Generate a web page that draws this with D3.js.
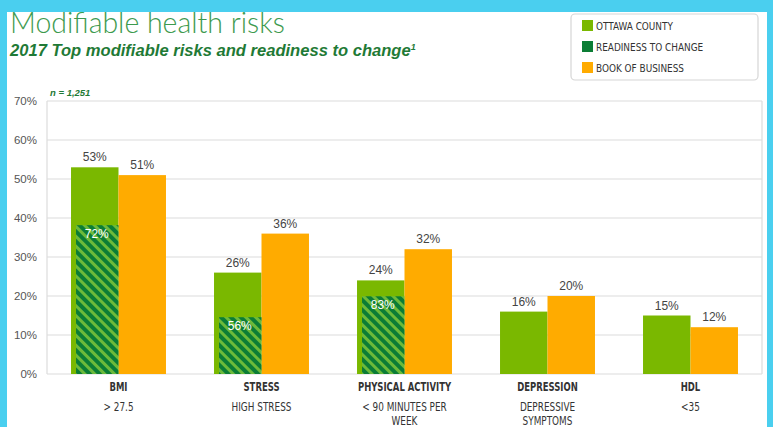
<!DOCTYPE html>
<html>
<head>
<meta charset="utf-8">
<script src="https://cdn.jsdelivr.net/npm/d3@7.9.0/dist/d3.min.js"></script>
<style>
  html, body { margin: 0; padding: 0; background: #fff; }
  svg { display: block; }
  .narrow { font-family: "Liberation Sans Narrow", "DejaVu Sans Condensed", "Liberation Sans", sans-serif; }
</style>
</head>
<body>
<svg id="chart" width="773" height="427"></svg>
<script>
// chart data
const categories = ["BMI", "STRESS", "PHYSICAL ACTIVITY", "DEPRESSION", "HDL"];
const subLabels = [["> 27.5"], ["HIGH STRESS"], ["< 90 MINUTES PER", "WEEK"], ["DEPRESSIVE", "SYMPTOMS"], ["<35"]];
const ottawaCounty = [53, 26, 24, 16, 15];
const bookOfBusiness = [51, 36, 32, 20, 12];
const readinessToChange = [72, 56, 83, null, null]; // % of the county bar
const yTicks = [0, 10, 20, 30, 40, 50, 60, 70];
const legendLabels = ["OTTAWA COUNTY", "READINESS TO CHANGE", "BOOK OF BUSINESS"];

const colors = { ottawa: "#7ab800", ready: "#0b7d35", book: "#ffab00", readyLight: "#6cba3a" };

const svg = d3.select("#chart");
const W = 773, H = 427;
const plot = { left: 47, right: 762, top: 101, bottom: 374 };

// frame / border
svg.append("rect").attr("width", W).attr("height", H).attr("fill", "#fff");
svg.append("rect").attr("x", 0).attr("y", 0).attr("width", W).attr("height", 12).attr("fill", "#4acfef");
svg.append("rect").attr("x", 0).attr("y", 0).attr("width", 7).attr("height", H).attr("fill", "#4acfef");
svg.append("rect").attr("x", 767).attr("y", 0).attr("width", 6).attr("height", H).attr("fill", "#4acfef");

// helper: scale font-size so text fits target width
function fitWidth(sel, target) {
  const fs = parseFloat(sel.attr("font-size"));
  const w = sel.node().getComputedTextLength();
  sel.attr("font-size", fs * target / w);
}

// helper: condensed text (squeezed horizontally)
function narrowText(parent, x0, y0, sx, txt) {
  return parent.append("text")
    .attr("transform", `translate(${x0},${y0}) scale(${sx},1)`)
    .text(txt);
}

// titles
const title = svg.append("text")
  .attr("x", 10).attr("y", 33)
  .attr("font-family", "Lato, 'Open Sans', sans-serif")
  .attr("font-weight", 300)
  .attr("font-size", 28)
  .attr("fill", "#3d9a4e")
  .text("Modifiable health risks");
fitWidth(title, 275);

const sub = svg.append("text")
  .attr("x", 10).attr("y", 56)
  .attr("font-family", "'Liberation Sans', Arial, sans-serif")
  .attr("font-weight", "bold")
  .attr("font-style", "italic")
  .attr("font-size", 15)
  .attr("fill", "#1f7a36")
  .text("2017 Top modifiable risks and readiness to change");
fitWidth(sub, 401);
sub.append("tspan").attr("dy", -6).attr("font-size", 9).text("1");

svg.append("text")
  .attr("x", 50).attr("y", 96)
  .attr("font-family", "'Liberation Sans', Arial, sans-serif")
  .attr("font-weight", "bold").attr("font-style", "italic")
  .attr("font-size", 9.5)
  .attr("fill", "#1f7a36")
  .text("n = 1,251");

// scales
const x = d3.scaleBand().domain(categories).range([plot.left, plot.right])
  .paddingInner(0.336).paddingOuter(0.168);
const xs = d3.scaleBand().domain(["ottawa", "book"]).range([0, x.bandwidth()]);
const y = d3.scaleLinear().domain([0, 70]).range([plot.bottom, plot.top]);

// grid
svg.append("g").selectAll("line").data(yTicks).join("line")
  .attr("x1", plot.left).attr("x2", plot.right)
  .attr("y1", d => y(d)).attr("y2", d => y(d))
  .attr("stroke", "#dcdcdc").attr("stroke-width", 1.2);
svg.append("g").selectAll("line").data([plot.left, plot.right]).join("line")
  .attr("x1", d => d).attr("x2", d => d)
  .attr("y1", plot.top).attr("y2", plot.bottom)
  .attr("stroke", "#dcdcdc").attr("stroke-width", 1.2);

// y axis labels
svg.append("g").selectAll("text").data(yTicks).join("text")
  .attr("x", 37).attr("y", d => y(d) + 4)
  .attr("text-anchor", "end")
  .attr("font-family", "'Liberation Sans', Arial, sans-serif")
  .attr("font-size", 11.5)
  .attr("fill", "#555")
  .text(d => d + "%");

// hatch pattern
const defs = svg.append("defs");
const pat = defs.append("pattern")
  .attr("id", "hatch").attr("patternUnits", "userSpaceOnUse")
  .attr("width", 7).attr("height", 7)
  .attr("patternTransform", "rotate(-45)");
pat.append("rect").attr("width", 7).attr("height", 7).attr("fill", colors.readyLight);
pat.append("rect").attr("width", 4).attr("height", 7).attr("fill", colors.ready);

// bars
const rows = categories.map((c, i) => ({
  cat: c, ottawa: ottawaCounty[i], book: bookOfBusiness[i], ready: readinessToChange[i]
}));

const g = svg.append("g");
rows.forEach(d => {
  const x0 = x(d.cat);
  g.append("rect")
    .attr("x", x0 + xs("ottawa")).attr("y", y(d.ottawa))
    .attr("width", xs.bandwidth()).attr("height", y(0) - y(d.ottawa))
    .attr("fill", colors.ottawa);
  g.append("rect")
    .attr("x", x0 + xs("book")).attr("y", y(d.book))
    .attr("width", xs.bandwidth()).attr("height", y(0) - y(d.book))
    .attr("fill", colors.book);
  if (d.ready != null) {
    const rv = d.ottawa * d.ready / 100;
    g.append("rect")
      .attr("x", x0 + xs("ottawa") + 5).attr("y", y(rv))
      .attr("width", xs.bandwidth() - 5).attr("height", y(0) - y(rv))
      .attr("fill", "url(#hatch)");
    g.append("text")
      .attr("x", x0 + xs("ottawa") + xs.bandwidth() / 2 + 2).attr("y", y(rv) + 13)
      .attr("text-anchor", "middle")
      .attr("font-family", "'Liberation Sans', Arial, sans-serif")
      .attr("font-size", 12).attr("fill", "#fff")
      .text(d.ready + "%");
  }
  // value labels
  g.append("text")
    .attr("x", x0 + xs("ottawa") + xs.bandwidth() / 2).attr("y", y(d.ottawa) - 6)
    .attr("text-anchor", "middle")
    .attr("font-family", "'Liberation Sans', Arial, sans-serif")
    .attr("font-size", 12).attr("fill", "#444")
    .text(d.ottawa + "%");
  g.append("text")
    .attr("x", x0 + xs("book") + xs.bandwidth() / 2).attr("y", y(d.book) - 6)
    .attr("text-anchor", "middle")
    .attr("font-family", "'Liberation Sans', Arial, sans-serif")
    .attr("font-size", 12).attr("fill", "#444")
    .text(d.book + "%");
});

// x labels
const xl = svg.append("g").attr("class", "narrow")
  .attr("text-anchor", "middle").attr("fill", "#333");
categories.forEach((c, i) => {
  const cx = x(c) + x.bandwidth() / 2;
  narrowText(xl, cx, 391, 0.82, c)
    .attr("font-size", 11.5).attr("font-weight", "bold");
  subLabels[i].forEach((s, j) => {
    narrowText(xl, cx, 411 + j * 14, 0.86, s)
      .attr("font-size", 11.5);
  });
});

// legend
const lg = svg.append("g").attr("class", "narrow");
lg.append("rect")
  .attr("x", 571).attr("y", 14).attr("width", 187).attr("height", 66)
  .attr("rx", 4).attr("fill", "#fff")
  .attr("stroke", "#d6d6d6").attr("stroke-width", 1.2);
const legendColors = [colors.ottawa, colors.ready, colors.book];
legendLabels.forEach((l, i) => {
  lg.append("rect")
    .attr("x", 582).attr("y", 20 + i * 21)
    .attr("width", 11).attr("height", 11)
    .attr("fill", legendColors[i]);
  narrowText(lg, 596, 30 + i * 21, 0.9, l)
    .attr("font-size", 11).attr("fill", "#333");
});
</script>
</body>
</html>
